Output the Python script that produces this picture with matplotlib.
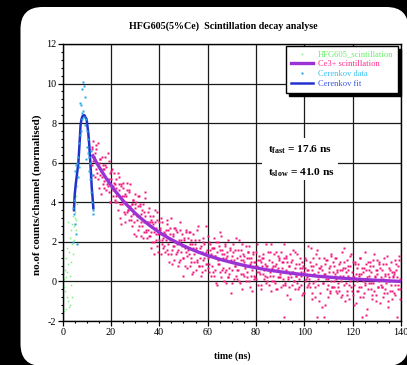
import numpy as np
import matplotlib
matplotlib.use('Agg')
import matplotlib.pyplot as plt
from matplotlib.patches import FancyBboxPatch, Rectangle
from matplotlib.transforms import IdentityTransform
from matplotlib.ticker import MultipleLocator

plt.rcParams['font.family'] = ['Liberation Serif', 'DejaVu Serif']
plt.rcParams['axes.unicode_minus'] = False
plt.rcParams['mathtext.fontset'] = 'custom'
plt.rcParams['mathtext.rm'] = 'Liberation Serif'
plt.rcParams['mathtext.bf'] = 'Liberation Serif:bold'

# HFG605 raw scintillation (rising edge)
green_time = [0.0, 0.15, 0.3, 0.45, 0.6, 0.75, 0.9, 1.05, 1.2, 1.35, 1.5, 1.65, 1.8, 1.95,
              2.1, 2.25, 2.4, 2.55, 2.7, 2.85, 3.0, 3.15, 3.3, 3.45, 3.6, 3.75, 3.9, 4.05,
              4.2, 4.35, 4.5, 4.65, 4.8, 4.95, 5.1, 5.25, 5.4, 5.55, 5.7, 5.85, 6.0]
green_counts = [-0.2, 0.4, -0.9, 0.1, -0.3, -1.5, 0.6, -0.5, 0.2, -1.4, 1.2, -0.8, 0.5, 1.7,
                -1.0, 3.0, 0.9, -1.3, 1.5, 0.3, 2.2, -1.2, 1.0, -0.2, 2.6, -0.8, 1.9, 2.9,
                1.4, 3.3, 2.1, 3.6, 2.8, 3.2, 4.0, 3.5, 2.6, 4.3, 3.1, 4.8, 3.9]

# Ce3+ scintillation decay data, 0.25 ns channels from 12 ns
scint_time = np.arange(12.0, 140.0, 0.25)
scint_counts = [
    6.7, 5.9, 7.1, 6.1, 6.3, 5.3, 6.5, 6.7, 5.7, 6.0, 7.0, 5.2, 6.0, 5.4, 6.2, 5.6, 4.4, 6.3, 5.9, 4.9,
    5.1, 5.7, 6.3, 4.6, 5.8, 5.2, 4.9, 6.5, 4.5, 5.2, 5.5, 4.0, 5.6, 4.7, 5.7, 4.3, 4.8, 5.0, 4.0, 4.9,
    5.2, 4.3, 4.4, 5.5, 3.6, 4.6, 4.9, 3.9, 2.9, 4.9, 4.3, 3.9, 5.0, 3.5, 4.3, 4.4, 3.0, 4.0, 3.5, 4.6,
    3.6, 4.5, 3.1, 3.8, 4.9, 3.3, 2.8, 3.9, 4.1, 3.4, 3.0, 4.4, 3.7, 2.3, 4.0, 3.1, 3.8, 2.6, 4.3, 3.3,
    3.8, 2.3, 3.4, 3.6, 2.8, 3.9, 3.0, 2.5, 3.3, 4.5, 2.6, 3.0, 2.2, 3.5, 2.6, 3.7, 2.3, 3.0, 1.7, 3.1,
    2.0, 2.9, 3.3, 1.4, 2.5, 3.0, 2.1, 2.7, 1.8, 3.5, 2.4, 2.1, 3.0, 2.7, 1.4, 2.4, 2.1, 3.0, 1.7, 2.5,
    2.4, 1.5, 2.4, 2.1, 1.6, 2.9, 1.9, 2.6, 1.0, 2.4, 2.1, 1.4, 3.2, 1.6, 1.8, 2.4, 1.1, 2.7, 2.0, 1.4,
    2.6, 1.5, 1.9, 0.8, 2.1, 2.0, 1.1, 2.6, 1.5, 1.8, 2.4, 0.3, 1.2, 2.1, 1.8, 0.8, 2.6, 1.5, 1.3, 2.2,
    1.6, 2.5, 0.8, 1.9, 1.2, 2.1, 0.4, 1.7, 2.4, 1.0, 1.4, 1.9, 1.7, 0.6, 1.0, 2.6, 1.5, 0.8, 2.1, 1.2,
    1.7, 0.3, 1.5, 0.8, 2.2, 1.1, 1.9, 0.6, 1.4, 0.9, 2.8, 1.6, 0.7, 1.2, 2.0, 0.9, 1.6, 1.4, 0.3, 1.7,
    0.8, 1.7, 2.2, 0.3, 1.3, 0.6, 2.0, -0.2, 1.5, 1.1, 0.9, 1.8, 0.5, 2.5, 0.2, 1.4, 1.6, 0.7, 1.2, 0.0,
    1.8, 0.5, -0.1, 1.2, 1.5, 0.2, 2.1, 0.7, 0.4, 1.7, 1.0, -0.6, 1.3, 0.6, 1.9, 0.1, 1.1, 1.6, 0.8, 0.3,
    0.1, 1.2, 0.9, 0.6, 2.1, -0.1, 1.3, 0.4, 1.6, -0.4, 1.1, 1.4, 0.3, 1.0, 0.7, 1.8, 0.0, 1.2, 0.5, 1.5,
    1.8, 0.0, 0.9, 0.3, 1.2, 0.6, -0.5, 1.4, 1.0, 0.1, 1.0, 0.2, 1.5, 0.5, 0.8, -0.2, 1.1, 1.3, 0.4, 0.7,
    1.0, -0.4, 1.2, 0.4, 1.4, 0.1, 0.6, 0.9, -0.1, 0.8, 0.2, 0.8, 1.5, -0.2, 1.1, 0.5, 0.3, 1.9, 0.0, 0.7,
    0.6, 0.3, 1.4, -0.1, 0.8, 0.9, -0.4, 0.6, 0.2, 1.3, 1.1, 0.2, 0.4, 1.5, -0.3, 0.7, 1.0, 0.1, -1.8, 1.2,
    -0.1, 1.3, 0.6, -0.7, 1.0, 0.1, 0.8, -0.3, 1.4, 0.4, 0.2, 1.1, -0.2, 0.5, 1.6, 0.0, -0.4, 0.7, 0.9, 0.3,
    -0.1, 0.4, -0.4, 0.9, 0.1, 1.2, -0.2, 0.5, -0.7, 0.7, 0.8, -0.6, 0.5, 0.7, 0.0, 1.1, 0.2, -0.3, 0.6, 1.8,
    0.1, 1.0, -0.3, 1.7, -0.6, 0.6, 0.8, -0.1, 0.4, -0.8, 0.0, 0.9, 1.4, -1.8, 0.5, -0.2, 1.2, -1.0, 0.7, 0.3,
    0.3, -1.3, 0.6, -0.1, 1.2, -1.8, 0.4, 0.9, 0.1, -0.4, 1.1, -0.2, -0.8, 0.5, 0.8, -0.5, 1.4, 0.0, -0.3, 1.0,
    0.5, 0.8, -0.3, 0.4, 0.1, 1.2, -0.6, 0.6, -0.1, 0.9, -0.5, 0.6, 0.3, 0.0, 1.5, -0.7, 0.7, -0.2, 1.0, -1.0,
    0.7, -0.1, 1.1, -0.5, 0.3, 0.6, -0.9, 0.8, 0.0, 1.4, -0.3, 0.5, -0.7, 1.0, 0.2, -0.2, 0.9, -1.1, 0.4, 0.7,
    -0.5, 0.9, 0.3, -0.3, 1.2, -0.8, 0.4, -1.8, 0.7, 0.0, 0.5, -0.6, 1.5, -0.2, -1.7, 0.6, 0.2, -0.4, 1.0, -0.1,
    0.3, 1.0, -0.4, 0.5, -0.9, 0.8, -0.1, 1.4, -0.5, 0.2, 0.6, -0.7, 0.4, 1.1, -0.3, 0.0, 0.9, -1.1, 0.7, -0.2,
    -0.3, 0.6, 0.1, -0.8, 1.2, -0.4, 0.3, -0.1, 0.9, -0.6, 0.4, -1.3, 0.7, 0.2, -0.5, 1.0, -0.2, 0.5, -0.9, 0.3,
    0.4, -0.6, 1.1, -0.2, 0.6, -1.8, 0.2, 0.8, -0.4, 1.3, -0.9, 0.1,
]
# second sweep, interleaved channels
scint_time_b = np.arange(12.125, 140.0, 0.5)
scint_counts_b = [
    6.8, 5.4, 6.3, 6.9, 5.5, 5.9, 4.7, 6.2, 5.3, 5.7,
    4.7, 5.9, 5.2, 4.8, 6.1, 4.0, 5.2, 4.6, 5.5, 4.1,
    4.7, 4.0, 5.3, 3.2, 4.8, 4.1, 4.7, 3.4, 4.3, 5.0,
    3.6, 4.6, 3.1, 3.9, 4.1, 2.4, 3.9, 3.3, 4.3, 2.8,
    3.9, 3.0, 2.2, 3.5, 4.2, 2.5, 3.0, 2.3, 3.3, 2.5,
    3.0, 2.0, 3.6, 2.4, 3.1, 1.5, 2.6, 3.2, 1.9, 2.2,
    1.8, 2.6, 3.1, 1.4, 2.2, 2.7, 0.9, 2.3, 1.8, 2.7,
    2.5, 1.6, 1.0, 3.0, 2.1, 1.2, 2.2, 1.7, 2.5, 0.7,
    1.4, 2.5, 1.0, 1.9, 0.5, 2.1, 1.6, 1.1, 2.8, 0.8,
    1.8, 0.5, 2.0, 1.2, 1.5, 0.9, 2.3, 0.5, 1.9, 1.3,
    0.5, 1.7, 1.3, -0.1, 2.0, 0.9, 1.6, 2.3, 0.6, 1.4,
    1.9, 0.6, 1.3, 0.2, 1.6, 1.1, -0.1, 1.5, 0.8, 2.2,
    0.6, 1.6, 0.0, 1.1, 1.9, 0.4, 1.3, 0.8, 0.2, 1.5,
    1.2, -0.3, 1.0, 1.5, 0.3, 0.8, 0.1, 1.9, 0.5, 1.1,
    -0.2, 0.8, 1.2, 0.3, 1.9, 0.0, 0.6, 1.5, -0.5, 1.0,
    0.8, 0.0, 1.5, -0.4, 0.7, 1.2, 0.2, 1.0, -0.2, 1.9,
    -0.2, 1.2, 0.2, 0.8, -0.9, 1.0, 0.5, 0.0, 1.5, 0.3,
    1.4, -0.3, 0.7, 0.3, 1.0, -0.6, 1.2, 0.1, 0.6, -0.2,
    -0.1, 0.8, -0.9, 1.2, 0.4, -0.3, 1.6, 0.1, 0.7, -0.6,
    0.8, -0.1, 0.4, -1.2, 1.1, 0.1, 0.7, -0.6, 1.3, -0.3,
    0.0, 1.2, -0.5, 0.5, -0.3, 1.0, -0.8, 0.6, 0.3, 1.7,
    0.5, -0.7, 0.8, -0.2, 1.3, -0.5, 0.3, -1.2, 1.0, 0.0,
    -0.5, 0.4, 1.2, -0.3, -0.8, 0.7, -0.1, 0.9, -1.4, 0.6,
    0.8, -0.1, -0.7, 1.1, 0.3, -1.0, 0.6, -0.3, 1.0, 0.2,
    -0.3, 0.9, -0.6, 0.4, 1.3, -1.0, 0.0, 0.6, -0.5, 0.2,
    0.5, -0.7, 0.9, -0.2, 1.1, -0.4,
]

# two-exponential fit (t_fast = 17.6 ns, t_slow = 41.0 ns)
fit_time = [12.5, 14, 16, 18, 20, 22, 24, 26, 28, 30, 32, 36, 40, 44, 48, 52, 56, 60, 65, 70,
            75, 80, 85, 90, 95, 100, 105, 110, 115, 120, 125, 130, 135, 140]
fit_counts = [6.35, 6.01, 5.60, 5.21, 4.86, 4.53, 4.23, 3.94, 3.69, 3.45, 3.23, 2.83, 2.48,
              2.18, 1.92, 1.69, 1.49, 1.31, 1.12, 0.96, 0.81, 0.69, 0.58, 0.49, 0.41, 0.34,
              0.27, 0.22, 0.17, 0.13, 0.09, 0.06, 0.03, 0.0]

# Cerenkov peak
cer_time = [4.2, 4.4, 4.6, 4.8, 5.0, 5.2, 5.4, 5.6, 5.8, 6.0, 6.2, 6.4, 6.6, 6.8, 7.0, 7.2,
            7.4, 7.6, 7.8, 8.0, 8.2, 8.4, 8.6, 8.8, 9.0, 9.2, 9.4, 9.6, 9.8, 10.0, 10.2, 10.4,
            10.6, 10.8, 11.0, 11.2, 11.4, 11.6, 11.8, 12.0, 12.2, 12.4, 12.6]
cer_counts = [2.0, 3.7, 3.4, 4.1, 2.9, 5.6, 2.4, 5.9, 1.9, 6.0, 5.3, 6.3, 7.0, 5.8, 7.4, 9.0,
              7.6, 8.9, 8.2, 9.7, 8.5, 10.1, 8.6, 9.9, 8.3, 9.3, 7.9, 8.2, 6.2, 7.6, 6.8, 6.5,
              7.2, 5.6, 6.3, 6.0, 5.2, 6.6, 4.5, 5.4, 4.0, 3.4, 3.6]
cerfit_time = [4.7, 4.8, 5.0, 5.4, 6.0, 6.5, 7.0, 7.4, 7.8, 8.2, 8.6, 9.0, 9.4, 9.9, 10.3,
               10.6, 11.0, 11.3, 11.7, 12.0, 12.4, 12.7]
cerfit_counts = [3.6, 4.0, 4.4, 4.9, 5.5, 6.0, 7.0, 7.9, 8.2, 8.35, 8.4, 8.4, 8.3, 8.2, 7.8,
                 7.5, 6.9, 6.3, 5.5, 4.8, 4.2, 3.7]

fig = plt.figure(figsize=(4.07, 3.65), dpi=100, facecolor='black')
card = FancyBboxPatch((20.5, -1), 388, 359, boxstyle='round,pad=0,rounding_size=22',
                      transform=IdentityTransform(), facecolor='white', edgecolor='none', zorder=-1)
fig.add_artist(card)

ax = fig.add_axes([0.154, 0.1205, 0.831, 0.759])
ax.set_axisbelow(True)

h_green, = ax.plot(green_time, green_counts, 's', ms=1.1, color='#7cf07c', mec='none', zorder=2)
ax.plot(scint_time, scint_counts, 's', ms=1.7, color='#f0187c', mec='none', zorder=3)
ax.plot(scint_time_b, scint_counts_b, 's', ms=1.7, color='#f0187c', mec='none', zorder=3)
h_fit, = ax.plot(fit_time, fit_counts, '-', lw=2.4, color='#9a32d6', zorder=4)
h_cfit, = ax.plot(cerfit_time, cerfit_counts, '-', lw=1.8, color='#2233cc', zorder=5)
h_cer, = ax.plot(cer_time, cer_counts, 's', ms=1.9, color='#22a6e6', mec='none', zorder=6)

ax.set_xlim(0, 140)
ax.set_ylim(-2, 12)
ax.xaxis.set_major_locator(MultipleLocator(20))
ax.xaxis.set_minor_locator(MultipleLocator(5))
ax.yaxis.set_major_locator(MultipleLocator(2))
ax.yaxis.set_minor_locator(MultipleLocator(0.4))
ax.tick_params(which='major', direction='out', length=3.6, width=0.9, labelsize=7.3, pad=1)
ax.tick_params(which='minor', direction='out', length=1.7, width=0.8)
ax.tick_params(axis='x', which='major', pad=1.6)
ax.grid(True, which='major', color='#1a1a1a', lw=0.9)
for s in ax.spines.values():
    s.set_linewidth(1.0)
    s.set_color('black')

# white patch behind the decay constants
ax.add_patch(Rectangle((0.589, 0.509), 0.225, 0.152, transform=ax.transAxes,
                       facecolor='white', edgecolor='none', zorder=1))
ax.text(0.607, 0.611, r'$\mathbf{t}_{\mathbf{fast}}$' + ' = 17.6 ns', transform=ax.transAxes,
        fontsize=8.2, fontweight='bold', va='baseline', zorder=7)
ax.text(0.607, 0.527, r'$\mathbf{t}_{\mathbf{slow}}$' + ' = 41.0 ns', transform=ax.transAxes,
        fontsize=8.2, fontweight='bold', va='baseline', zorder=7)

leg = ax.legend([h_green, h_fit, h_cer, h_cfit],
                ['HFG605_scintillation', 'Ce3+ scintillation', 'Cerenkov data', 'Cerenkov fit'],
                loc='upper right', bbox_to_anchor=(0.991, 0.993), borderaxespad=0,
                fontsize=6.1, labelspacing=0.22, handlelength=2.6, handletextpad=0.6,
                borderpad=0.55, fancybox=False, framealpha=1, edgecolor='black',
                shadow={'color': 'black', 'alpha': 1},
                labelcolor=['#66ee66', '#ff2a8a', '#3cc0f0', '#3a55e0'])
leg.get_frame().set_linewidth(1.0)
leg.set_zorder(10)

fig.text(223 / 407, 1 - 26 / 365, 'HFG605(5%Ce)  Scintillation decay analyse',
         ha='center', va='center', fontsize=7.2, fontweight='bold')
fig.text(232 / 407, 1 - 356 / 365, 'time (ns)', ha='center', va='center',
         fontsize=7, fontweight='bold')
fig.text(37.5 / 407, 1 - 195 / 365, 'no.of counts/channel (normalised)', ha='center',
         va='center', rotation=90, fontsize=8, fontweight='bold')

fig.savefig('out.png', dpi=100, facecolor='black')
